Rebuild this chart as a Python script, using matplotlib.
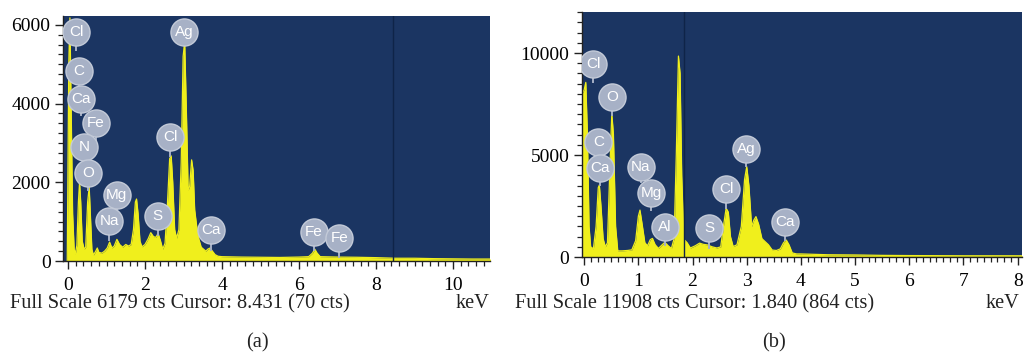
import matplotlib
matplotlib.use("Agg")
import matplotlib.pyplot as plt
from matplotlib.ticker import MultipleLocator

# ---- panel (a) spectrum (keV, counts)
a_kev = [-0.02, 0.02, 0.05, 0.08, 0.12, 0.16, 0.19, 0.23, 0.27, 0.30, 0.33, 0.37, 0.42, 0.46,
         0.51, 0.55, 0.58, 0.62, 0.66, 0.72, 0.76, 0.80, 0.88, 0.95, 1.02, 1.08, 1.14, 1.20,
         1.27, 1.34, 1.42, 1.50, 1.57, 1.64, 1.70, 1.75, 1.78, 1.82, 1.87, 1.92, 2.00, 2.08,
         2.15, 2.22, 2.28, 2.34, 2.40, 2.46, 2.52, 2.58, 2.64, 2.68, 2.72, 2.77, 2.82, 2.88,
         2.94, 2.99, 3.03, 3.07, 3.12, 3.16, 3.21, 3.25, 3.29, 3.34, 3.40, 3.46, 3.52, 3.58,
         3.63, 3.69, 3.75, 3.82, 3.90, 4.0, 4.5, 5.0, 5.5, 6.0, 6.25, 6.35, 6.41, 6.47, 6.55,
         7.0, 7.5, 8.0, 8.5, 9.0, 9.5, 10.0, 10.5, 11.0]
a_cts = [0, 5000, 6179, 4000, 1200, 300, 180, 400, 1500, 2000, 1500, 500, 300, 350,
         1500, 1880, 1200, 300, 150, 250, 330, 220, 200, 250, 330, 480, 330, 380,
         550, 420, 350, 420, 380, 420, 800, 1500, 1575, 1200, 500, 360, 420, 560,
         720, 620, 600, 700, 520, 300, 450, 1400, 2600, 2670, 2000, 800, 580, 800,
         2500, 5200, 5570, 4000, 1800, 1900, 2570, 2300, 1300, 900, 550, 350, 300, 250,
         300, 330, 250, 160, 120, 110, 100, 95, 90, 100, 110, 200, 300, 200, 110,
         100, 95, 85, 70, 70, 60, 55, 50, 50]

# labels (a): name, keV, badge centre, stem foot
a_lbl = ["Cl", "C", "Ca", "Fe", "N", "O", "Mg", "Na", "S", "Cl", "Ag", "Ca", "Fe", "Fe"]
a_lbl_kev = [0.21, 0.29, 0.34, 0.73, 0.42, 0.53, 1.26, 1.07, 2.33, 2.65, 3.01, 3.71, 6.39, 7.05]
a_lbl_top = [5820, 4840, 4120, 3510, 2900, 2240, 1680, 1020, 1140, 3140, 5810, 790, 740, 580]
a_lbl_foot = [5360, 4470, 3710, 3080, 2440, 1800, 1300, 530, 660, 2670, 5490, 280, 280, 100]

# ---- panel (b)
b_kev = [-0.04, 0.0, 0.03, 0.06, 0.09, 0.12, 0.17, 0.22, 0.26, 0.28, 0.31, 0.35, 0.39, 0.43,
         0.47, 0.51, 0.54, 0.58, 0.62, 0.70, 0.80, 0.88, 0.95, 1.00, 1.03, 1.07, 1.12, 1.17,
         1.22, 1.26, 1.31, 1.37, 1.44, 1.49, 1.55, 1.61, 1.66, 1.70, 1.74, 1.77, 1.80, 1.84,
         1.90, 1.96, 2.05, 2.13, 2.20, 2.28, 2.36, 2.45, 2.52, 2.57, 2.62, 2.66, 2.70, 2.75,
         2.82, 2.90, 2.96, 3.00, 3.04, 3.09, 3.13, 3.17, 3.22, 3.28, 3.34, 3.40, 3.47, 3.55,
         3.62, 3.68, 3.73, 3.78, 3.84, 3.92, 4.0, 4.5, 5.0, 5.5, 6.0, 7.0, 8.0, 8.1]
b_cts = [8000, 8200, 8560, 6000, 1500, 500, 400, 1500, 3400, 3530, 2500, 900, 500, 700,
         4000, 7040, 6000, 1500, 300, 300, 320, 350, 800, 2000, 2300, 1600, 700, 550,
         850, 910, 600, 420, 600, 720, 550, 420, 900, 5000, 9850, 9000, 4000, 864,
         700, 440, 550, 680, 620, 590, 500, 440, 500, 1500, 2390, 2200, 1000, 510,
         600, 1500, 3800, 4430, 3500, 1490, 1800, 1980, 1600, 900, 750, 600, 340, 320,
         400, 700, 830, 600, 200, 150, 150, 110, 100, 80, 70, 60, 60, 60]

b_lbl = ["Cl", "O", "C", "Ca", "Na", "Mg", "Al", "S", "Cl", "Ag", "Ca"]
b_lbl_kev = [0.17, 0.52, 0.26, 0.30, 1.04, 1.24, 1.49, 2.31, 2.62, 2.99, 3.70]
b_lbl_top = [9460, 7830, 5650, 4350, 4430, 3150, 1490, 1410, 3320, 5290, 1730]
b_lbl_foot = [8590, 6960, 4900, 3530, 3680, 2300, 590, 440, 2400, 4460, 830]

BG = "#1b3562"
YEL = "#f0ef1c"
BADGE = "#a7b1c6"
serif = ["Liberation Serif", "DejaVu Serif"]

fig = plt.figure(figsize=(10.24, 3.6), dpi=100)


def panel(rect, kev, cts, names, lkev, ltop, lfoot, xlim, ylim, cursor,
          yminor, xminor, xmajor, ymajor):
    ax = fig.add_axes(rect)
    ax.set_facecolor(BG)
    ax.fill_between(kev, 0, cts, color=YEL, lw=0)
    ax.plot(kev, cts, color=YEL, lw=0.9)
    ax.axvline(cursor, color="#0f2448", lw=1.0)
    for n, e, t, f in zip(names, lkev, ltop, lfoot):
        ax.plot([e, e], [f, t], color=BADGE, lw=1.4, zorder=4)
        ax.plot(e, t, "o", ms=19.5, mfc=BADGE, mec="#c3cad8", mew=1.0, zorder=5)
        ax.text(e, t, n, ha="center", va="center", color="white", fontsize=11,
                family=["Liberation Sans", "DejaVu Sans"], zorder=6)
    ax.set_xlim(*xlim)
    ax.set_ylim(*ylim)
    ax.xaxis.set_major_locator(MultipleLocator(xmajor))
    ax.xaxis.set_minor_locator(MultipleLocator(xminor))
    ax.yaxis.set_major_locator(MultipleLocator(ymajor))
    ax.yaxis.set_minor_locator(MultipleLocator(yminor))
    for s in ["top", "right"]:
        ax.spines[s].set_visible(False)
    for s in ["left", "bottom"]:
        ax.spines[s].set_color("#222222")
        ax.spines[s].set_linewidth(1.0)
    ax.tick_params(which="major", length=6, width=1, color="#222222", labelsize=14, pad=3)
    ax.tick_params(which="minor", length=3.5, width=0.9, color="#222222")
    ax.tick_params(axis="x", which="major", pad=5.5)
    for lab in ax.get_xticklabels() + ax.get_yticklabels():
        lab.set_family(serif)
    return ax


panel([63 / 1024, 99 / 360, 427 / 1024, 245 / 360], a_kev, a_cts, a_lbl, a_lbl_kev,
      a_lbl_top, a_lbl_foot, (-0.13, 10.96), (0, 6226), 8.431, 250, 0.2, 2, 2000)
panel([582 / 1024, 103 / 360, 440 / 1024, 245 / 360], b_kev, b_cts, b_lbl, b_lbl_kev,
      b_lbl_top, b_lbl_foot, (-0.04, 8.08), (0, 12010), 1.840, 500, 0.125, 1, 5000)

cap_y = 1 - 304 / 360
fs = 14.7
fig.text(10 / 1024, cap_y, "Full Scale 6179 cts Cursor: 8.431 (70 cts)", ha="left",
         va="center", fontsize=fs, family=serif, color="#222222")
fig.text(490 / 1024, cap_y, "keV", ha="right", va="center", fontsize=fs, family=serif,
         color="#222222")
fig.text(515 / 1024, cap_y, "Full Scale 11908 cts Cursor: 1.840 (864 cts)", ha="left",
         va="center", fontsize=fs, family=serif, color="#222222")
fig.text(1020 / 1024, cap_y, "keV", ha="right", va="center", fontsize=fs, family=serif,
         color="#222222")
fig.text(257 / 1024, 1 - 343 / 360, "(a)", ha="center", va="center", fontsize=fs,
         family=serif, color="#222222")
fig.text(774 / 1024, 1 - 343 / 360, "(b)", ha="center", va="center", fontsize=fs,
         family=serif, color="#222222")

fig.savefig("out.png", dpi=100)
